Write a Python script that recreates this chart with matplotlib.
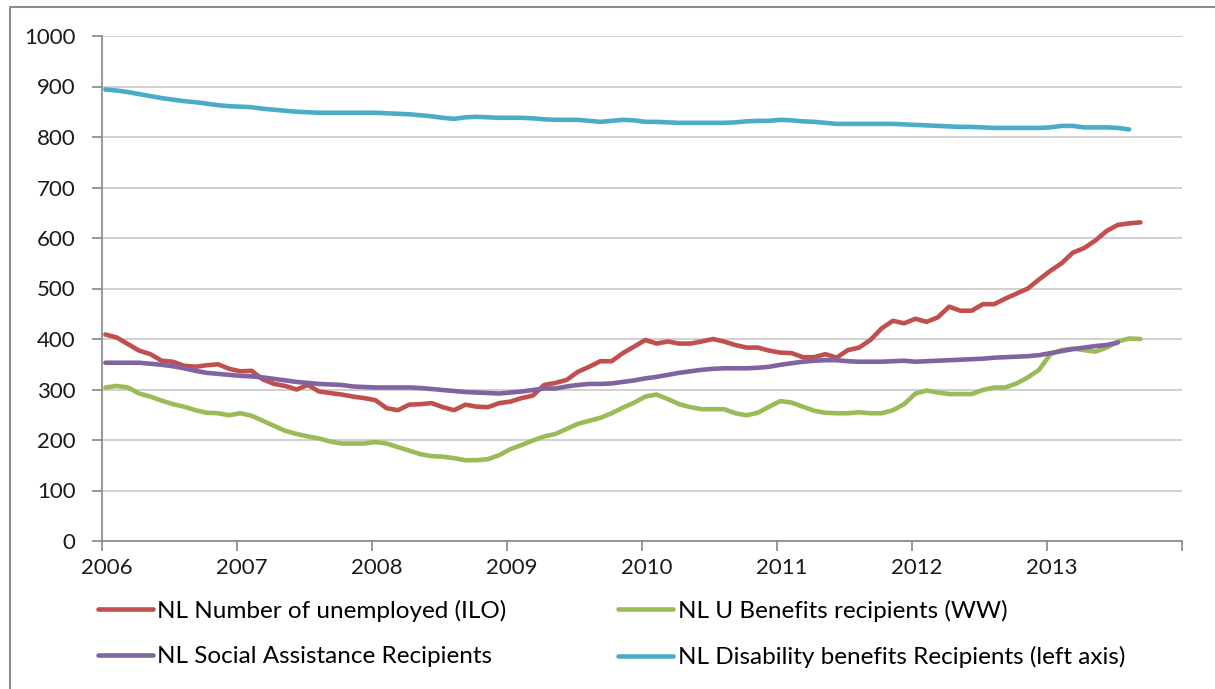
import numpy as np
import matplotlib
matplotlib.use('Agg')
import matplotlib.pyplot as plt
import matplotlib.transforms as mtransforms
from matplotlib.lines import Line2D

plt.rcParams['font.family'] = ['Lato', 'DejaVu Sans']

# monthly values, Jan 2006 onwards (thousands)
unemployed = [409, 403, 390, 377, 370, 357, 355, 347, 345, 348, 350, 341,
              336, 337, 320, 311, 307, 300, 309, 296, 293, 290, 286, 283,
              279, 263, 259, 270, 271, 273, 265, 259, 270, 266, 265, 273,
              276, 283, 288, 309, 313, 319, 335, 345, 356, 356, 372, 385,
              398, 391, 395, 391, 391, 395, 400, 395, 388, 383, 383, 377,
              373, 372, 364, 364, 370, 363, 378, 383, 398, 421, 436, 431,
              440, 434, 443, 464, 456, 456, 469, 469, 480, 490, 500, 518,
              535, 550, 571, 580, 595, 614, 626, 629, 631]
u_benefits = [304, 307, 304, 292, 286, 278, 271, 266, 259, 254, 253, 249,
              253, 248, 238, 228, 218, 212, 207, 203, 197, 193, 193, 193,
              196, 193, 186, 179, 172, 168, 167, 164, 160, 160, 162, 170,
              182, 190, 199, 207, 212, 222, 232, 238, 244, 253, 264, 274,
              286, 290, 281, 271, 265, 261, 261, 261, 253, 249, 254, 266,
              277, 274, 266, 258, 254, 253, 253, 255, 253, 253, 259, 271,
              292, 298, 294, 291, 291, 291, 299, 304, 304, 312, 324, 339,
              370, 378, 381, 378, 375, 383, 395, 401, 400]
social_assist = [353, 353, 353, 353, 351, 349, 346, 342, 337, 333, 331, 329,
                 327, 326, 324, 321, 318, 315, 313, 311, 310, 309, 306, 305,
                 304, 304, 304, 304, 303, 301, 299, 297, 295, 294, 293, 292,
                 294, 296, 299, 302, 302, 306, 309, 311, 311, 312, 315, 318,
                 322, 325, 329, 333, 336, 339, 341, 342, 342, 342, 343, 345,
                 349, 352, 355, 357, 358, 358, 356, 355, 355, 355, 356, 357,
                 355, 356, 357, 358, 359, 360, 361, 363, 364, 365, 366, 368,
                 372, 376, 380, 383, 386, 388, 393]
disability = [894, 892, 889, 885, 881, 877, 874, 871, 869, 866, 863, 861,
              860, 859, 856, 854, 852, 850, 849, 848, 848, 848, 848, 848,
              848, 847, 846, 845, 843, 841, 838, 836, 839, 840, 839, 838,
              838, 838, 837, 835, 834, 834, 834, 832, 830, 832, 834, 833,
              830, 830, 829, 828, 828, 828, 828, 828, 829, 831, 832, 832,
              834, 833, 831, 830, 828, 826, 826, 826, 826, 826, 826, 825,
              824, 823, 822, 821, 820, 820, 819, 818, 818, 818, 818, 818,
              819, 822, 822, 819, 819, 819, 818, 815]

labels = ['NL Number of unemployed (ILO)', 'NL U Benefits recipients (WW)',
          'NL Social Assistance Recipients', 'NL Disability benefits Recipients (left axis)']
colors = ['#C0504D', '#9BBB59', '#8064A2', '#4BACC6']
years = list(range(2006, 2015))


def months(vals):
    return 2006 + (np.arange(len(vals)) + 0.3) / 12


W, H = 1215, 689
fig = plt.figure(figsize=(W/100, H/100), dpi=100)
ax = fig.add_axes([102/W, 1-541/H, (1182-102)/W, (541-36)/H])

lines = []
for vals, lab, c in zip([unemployed, u_benefits, social_assist, disability], labels, colors):
    ln, = ax.plot(months(vals), vals, color=c, lw=3.3, label=lab, solid_capstyle='round')
    lines.append(ln)

ax.set_xlim(2006, 2014)
ax.set_ylim(0, 1000)
ax.set_yticks(range(0, 1001, 100))
ax.set_xticks(years)
ax.set_xticklabels([str(y) for y in years[:-1]] + [''])
ax.grid(axis='y', color='#C8C8C8', lw=1.2)
ax.set_axisbelow(True)
for s in ['top', 'right']:
    ax.spines[s].set_visible(False)
for s in ['left', 'bottom']:
    ax.spines[s].set_color('#868686')
    ax.spines[s].set_linewidth(1.2)
ax.tick_params(axis='both', colors='#868686', labelcolor='#1a1a1a', labelsize=16,
               length=7, width=1.2)
ax.tick_params(axis='y', pad=12)
ax.tick_params(axis='x', pad=5)
shift = mtransforms.ScaledTranslation(5/100, 0, fig.dpi_scale_trans)
for t in ax.get_xticklabels():
    t.set_transform(t.get_transform() + shift)

# row-wise order: red, green / purple, cyan
order = [0, 2, 1, 3]
fig.legend([lines[i] for i in order], [labels[i] for i in order],
           loc='upper left', bbox_to_anchor=(76/W, 1-578/H), ncol=2, frameon=False,
           fontsize=17.5, handlelength=2.25, handletextpad=0.2, columnspacing=4.6,
           labelspacing=1.0)

# chart frame (left and top edges only)
fig.add_artist(Line2D([10/W, 10/W, 1.0], [0.0, 1-7/H, 1-7/H], transform=fig.transFigure,
                      color='#8C8C8C', lw=1.5))

fig.savefig('out.png', dpi=100)
